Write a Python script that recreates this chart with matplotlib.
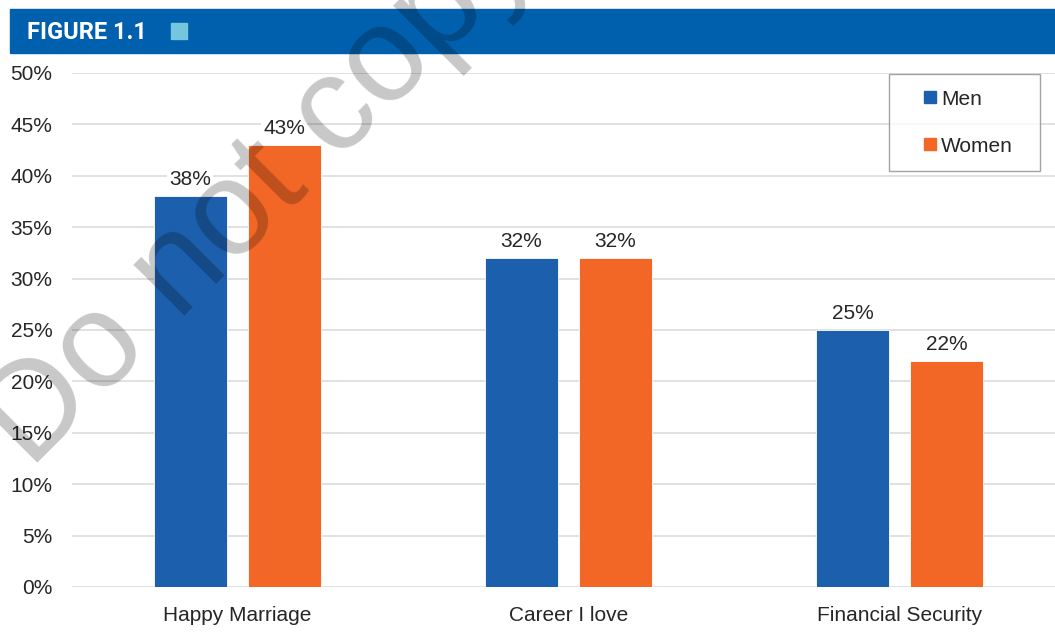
import matplotlib.pyplot as plt
import matplotlib as mpl
import numpy as np
from matplotlib.patches import Rectangle
from matplotlib.lines import Line2D

plt.rcParams['font.family'] = ['Liberation Sans', 'DejaVu Sans']

# Data
categories = ['Happy Marriage', 'Career I love', 'Financial Security']
men = [38, 32, 25]
women = [43, 32, 22]
y_ticks = [0, 5, 10, 15, 20, 25, 30, 35, 40, 45, 50]
y_tick_labels = [f'{t}%' for t in y_ticks]

blue = '#1B5FAD'
orange = '#F36726'
text_color = '#262626'

fig = plt.figure(figsize=(10.55, 6.42), dpi=100)
ax = fig.add_axes([0.0682, 0.0857, 0.9318, 0.8006])

x = np.arange(len(categories))
width = 0.22
offset = 0.142

bars_m = ax.bar(x - offset, men, width, color=blue, edgecolor='white', linewidth=0.6, zorder=3)
bars_w = ax.bar(x + offset, women, width, color=orange, edgecolor='white', linewidth=0.6, zorder=3)

# Value labels on top of each bar
for bars, vals in [(bars_m, men), (bars_w, women)]:
    for b, v in zip(bars, vals):
        ax.annotate(f'{v}%', (b.get_x() + b.get_width() / 2, v),
                    xytext=(0, 5), textcoords='offset points',
                    ha='center', va='bottom', fontsize=15, color=text_color, zorder=4,
                    bbox=dict(facecolor='white', edgecolor='none', pad=1.5))

ax.set_xlim(-0.5, 2.47)
ax.set_ylim(0, 50)
ax.set_yticks(y_ticks)
ax.set_yticklabels(y_tick_labels)
ax.set_xticks(x)
ax.set_xticklabels(categories)
ax.tick_params(axis='both', length=0, labelsize=15, colors=text_color)
ax.tick_params(axis='y', pad=14)
ax.tick_params(axis='x', pad=13.5)
ax.grid(axis='y', color='#D9D9D9', linewidth=1.1, zorder=0)
ax.set_axisbelow(True)
for s in ax.spines.values():
    s.set_visible(False)

# Legend
handles = [Line2D([], [], linestyle='none', marker='s', markersize=8, color=blue),
           Line2D([], [], linestyle='none', marker='s', markersize=8, color=orange)]
leg = fig.legend(handles, ['Men', 'Women'], loc='upper left',
                 bbox_to_anchor=(0.8427, 0.7347, 0.1431, 0.15), mode='expand',
                 fontsize=15, frameon=True, fancybox=False, borderpad=0.75,
                 labelspacing=1.35, handlelength=2.43, handletextpad=-0.67,
                 borderaxespad=0)
leg.get_frame().set_edgecolor('#8C8C8C')
leg.get_frame().set_linewidth(1.0)
for t in leg.get_texts():
    t.set_color(text_color)

# Header band
fig.patches.append(Rectangle((10 / 1055, 1 - 53 / 642), 1 - 10 / 1055, 44 / 642,
                             transform=fig.transFigure, color='#0060AD', zorder=0))
fig.patches.append(Rectangle((171 / 1055, 1 - 39 / 642), 16 / 1055, 16 / 642,
                             transform=fig.transFigure, color='#74C5DE', zorder=1))
fig.text(27 / 1055, 1 - 39.3 / 642, 'FIGURE 1.1', family='Roboto', weight='bold',
         fontsize=17, color='white', ha='left', va='baseline')

# Watermark
fig.text(30 / 1055, 1 - 470 / 642, 'Do not copy', fontsize=97,
         color='black', alpha=0.22, rotation=45, rotation_mode='anchor',
         ha='left', va='baseline', zorder=10)

fig.savefig('out.png', dpi=100)
